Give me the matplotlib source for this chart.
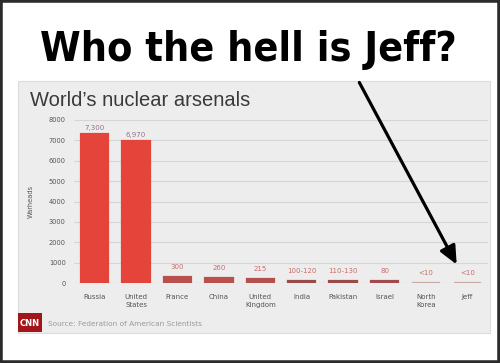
import matplotlib
matplotlib.use("Agg")
import matplotlib.pyplot as plt
from matplotlib.patches import Rectangle, FancyArrowPatch

# data
countries = ["Russia", "United\nStates", "France", "China", "United\nKingdom",
             "India", "Pakistan", "Israel", "North\nKorea", "Jeff"]
warheads = [7300, 6970, 300, 260, 215, 110, 120, 80, 10, 10]
value_labels = ["7,300", "6,970", "300", "260", "215", "100-120", "110-130",
                "80", "<10", "<10"]
bar_colors = ["#e5443b", "#e5443b", "#b9504d", "#b9504d", "#b4504b",
              "#9c4a48", "#9c4a48", "#a24c4a", "#ccaaaa", "#ccaaaa"]
label_colors = ["#9a6f8a", "#9a6f8a"] + ["#cc6c6a"] * 8
yticks = [0, 1000, 2000, 3000, 4000, 5000, 6000, 7000, 8000]

W, H = 500, 363
fig = plt.figure(figsize=(W / 100, H / 100), dpi=100)
fig.patch.set_facecolor("white")


def fx(px):
    return px / W


def fy(py):
    return 1 - py / H


# grey chart panel
fig.add_artist(Rectangle((fx(18), fy(333)), fx(490) - fx(18), fy(81) - fy(333),
                         transform=fig.transFigure, facecolor="#ededed",
                         edgecolor="#dcdcdc", linewidth=0.8, zorder=0))

# outer dark frame
fig.add_artist(Rectangle((0, 0), 1, 1, transform=fig.transFigure,
                         facecolor="none", edgecolor="#2b2b2b", linewidth=4, zorder=10))

# meme caption
fig.text(0.496, fy(61), "Who the hell is Jeff?", ha="center", va="baseline",
         fontsize=29.5, fontweight="bold", fontstretch="condensed",
         family=["DejaVu Sans"], color="black")

# chart title
fig.text(fx(30), fy(100), "World\u2019s nuclear arsenals", ha="left", va="center",
         fontsize=14.5, color="#3a3a3a", family=["Liberation Sans", "DejaVu Sans"])

ax = fig.add_axes([fx(74), fy(283), fx(488) - fx(74), fy(120) - fy(283)])
ax.patch.set_alpha(0)
x = list(range(len(countries)))
ax.bar(x, warheads, width=0.66, color=bar_colors, edgecolor=bar_colors,
       linewidth=1.6, zorder=3)
ax.set_xlim(-0.5, len(countries) - 0.5)
ax.set_ylim(0, 8000)
ax.set_yticks(yticks)
ax.set_yticklabels([str(t) for t in yticks], fontsize=4.8, color="#555555")
ax.set_xticks(x)
ax.set_xticklabels(countries, fontsize=5, color="#555555", linespacing=1.3)
ax.tick_params(length=0, pad=6)
ax.tick_params(axis="x", pad=8)
ax.grid(axis="y", color="#d6d6d6", linewidth=0.8, zorder=0)
for s in ax.spines.values():
    s.set_visible(False)
ax.set_ylabel("Warheads", fontsize=4.8, color="#555555", labelpad=11)

for xi, v, lab, c in zip(x, warheads, value_labels, label_colors):
    off = 2.5 if v > 1000 else 5
    ax.annotate(lab, (xi, v), xytext=(0, off), textcoords="offset points",
                ha="center", va="bottom", fontsize=5, color=c)

# CNN logo and source
fig.add_artist(Rectangle((fx(18), fy(332)), fx(42) - fx(18), fy(313) - fy(332),
                         transform=fig.transFigure, facecolor="#a3151b",
                         edgecolor="none", zorder=5))
fig.text(fx(30), fy(323), "CNN", ha="center", va="center", fontsize=6,
         fontweight="bold", color="white", zorder=6)
fig.text(fx(48), fy(324), "Source: Federation of American Scientists",
         ha="left", va="center", fontsize=5.3, color="#9a9a9a")

# arrow pointing at Jeff
fig.add_artist(FancyArrowPatch((fx(358), fy(80)), (fx(458), fy(267)),
                               transform=fig.transFigure,
                               arrowstyle="-|>,head_length=11,head_width=5",
                               mutation_scale=1, color="black", linewidth=2.3, zorder=8))

fig.savefig("out.png", dpi=100)
